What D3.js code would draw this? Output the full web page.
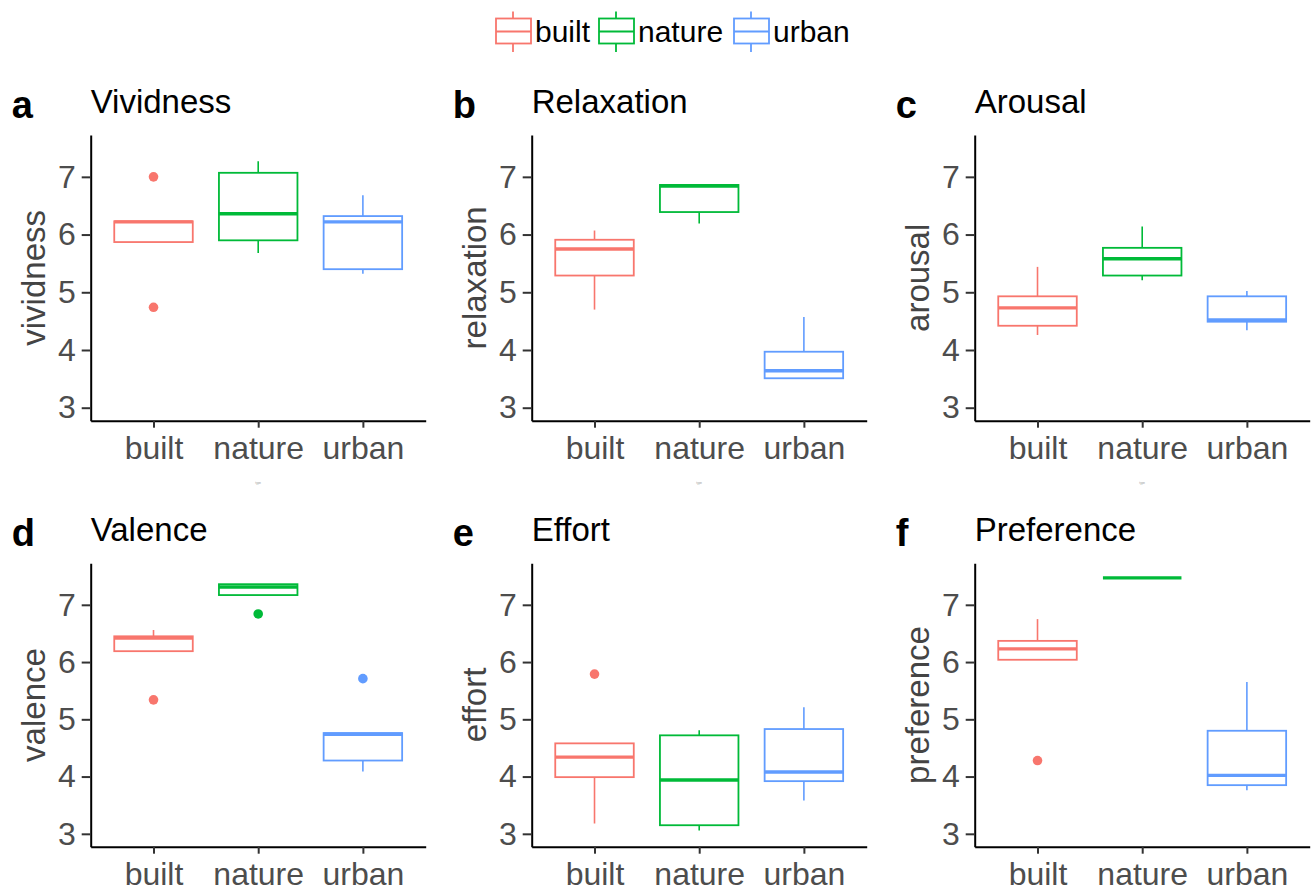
<!DOCTYPE html>
<html>
<head>
<meta charset="utf-8">
<script src="https://cdn.jsdelivr.net/npm/d3@7"></script>
<style>
  body { margin: 0; background: #fff; }
  svg { font-family: "Liberation Sans", Arial, sans-serif; }
</style>
</head>
<body>
<svg id="chart" width="1314" height="893"></svg>
<script>
const groups = ["built", "nature", "urban"];
const colors = ["#F8766D", "#00BA38", "#619CFF"];
const letters = ["a", "b", "c", "d", "e", "f"];
const titles = ["Vividness", "Relaxation", "Arousal", "Valence", "Effort", "Preference"];
const yLabels = ["vividness", "relaxation", "arousal", "valence", "effort", "preference"];
const yTicks = [3, 4, 5, 6, 7];

// [lower whisker, q1, median, q3, upper whisker] for built, nature, urban
const vividness = [[5.87, 5.87, 6.22, 6.23, 6.23], [5.68, 5.90, 6.36, 7.07, 7.27], [5.32, 5.40, 6.22, 6.32, 6.68]];
const relaxation = [[4.70, 5.29, 5.75, 5.91, 6.07], [6.19, 6.39, 6.84, 6.86, 6.86], [3.51, 3.51, 3.64, 3.97, 4.57]];
const arousal = [[4.26, 4.42, 4.73, 4.93, 5.44], [5.21, 5.29, 5.58, 5.77, 6.14], [4.34, 4.49, 4.52, 4.93, 5.02]];
const valence = [[6.19, 6.19, 6.42, 6.45, 6.56], [7.17, 7.17, 7.31, 7.36, 7.36], [4.09, 4.28, 4.74, 4.76, 4.76]];
const effort = [[3.18, 3.99, 4.34, 4.58, 4.58], [3.06, 3.15, 3.94, 4.72, 4.81], [3.58, 3.92, 4.08, 4.83, 5.21]];
const preference = [[6.04, 6.04, 6.23, 6.37, 6.75], [7.47, 7.47, 7.47, 7.47, 7.47], [3.76, 3.85, 4.02, 4.80, 5.65]];
const stats = [vividness, relaxation, arousal, valence, effort, preference];

// outliers per group
const vividnessOut = [[7.0, 4.74], [], []];
const relaxationOut = [[], [], []];
const arousalOut = [[], [], []];
const valenceOut = [[5.34], [6.84], [5.71]];
const effortOut = [[5.79], [], []];
const preferenceOut = [[4.28], [], []];
const outliers = [vividnessOut, relaxationOut, arousalOut, valenceOut, effortOut, preferenceOut];

const svg = d3.select("#chart");

// panel layout
const colLeft = [90.7, 531.7, 974.7];
const plotW = 335;
const rowTop = [135, 563.3];
const rowBottom = [420.7, 846.7];

stats.forEach((measure, i) => {
  const col = i % 3, row = Math.floor(i / 3);
  const left = colLeft[col], top = rowTop[row], bottom = rowBottom[row];

  const x = d3.scalePoint().domain(groups).range([left, left + plotW]).padding(0.6);
  const y = d3.scaleLinear().domain([2.775, 7.725]).range([bottom, top]);
  const boxW = x.step() * 0.75;

  const g = svg.append("g");

  // panel letter + title
  g.append("text")
    .attr("x", left - 79).attr("y", top - 17)
    .attr("font-size", 38).attr("font-weight", "bold").attr("fill", "#000")
    .text(letters[i]);
  g.append("text")
    .attr("x", left).attr("y", top - 22)
    .attr("font-size", 33).attr("fill", "#000")
    .text(titles[i]);

  // boxes
  measure.forEach((s, k) => {
    const cx = x(groups[k]);
    const c = colors[k];
    const [lw, q1, med, q3, uw] = s;
    g.append("line").attr("x1", cx).attr("x2", cx).attr("y1", y(q3)).attr("y2", y(uw))
      .attr("stroke", c).attr("stroke-width", 1.6);
    g.append("line").attr("x1", cx).attr("x2", cx).attr("y1", y(q1)).attr("y2", y(lw))
      .attr("stroke", c).attr("stroke-width", 1.6);
    g.append("rect")
      .attr("x", cx - boxW / 2).attr("width", boxW)
      .attr("y", y(q3)).attr("height", Math.max(0, y(q1) - y(q3)))
      .attr("fill", "#fff").attr("stroke", c).attr("stroke-width", 1.8);
    g.append("line").attr("x1", cx - boxW / 2).attr("x2", cx + boxW / 2)
      .attr("y1", y(med)).attr("y2", y(med))
      .attr("stroke", c).attr("stroke-width", 3.4);
    g.selectAll(null).data(outliers[i][k]).enter().append("circle")
      .attr("cx", cx).attr("cy", d => y(d)).attr("r", 4.8).attr("fill", c);
  });

  // axes
  const yAxis = g.append("g").attr("transform", `translate(${left},0)`)
    .call(d3.axisLeft(y).tickValues(yTicks).tickFormat(d3.format("d"))
      .tickSize(9).tickSizeOuter(0).tickPadding(6));
  const xAxis = g.append("g").attr("transform", `translate(0,${bottom})`)
    .call(d3.axisBottom(x).tickSize(7).tickSizeOuter(0).tickPadding(9));
  [yAxis, xAxis].forEach(a => {
    a.select(".domain").attr("stroke", "#000").attr("stroke-width", 2);
    a.selectAll(".tick line").attr("stroke", "#333").attr("stroke-width", 2);
    a.selectAll(".tick text").attr("fill", "#4D4D4D").attr("font-size", 32)
      .attr("font-family", "'Liberation Sans', Arial, sans-serif");
  });
  xAxis.selectAll(".tick text").attr("dy", "0.71em");

  // y axis title
  g.append("text")
    .attr("transform", `translate(${left - 57},${(top + bottom) / 2}) rotate(-90)`)
    .attr("text-anchor", "middle").attr("dominant-baseline", "central")
    .attr("font-size", 33).attr("fill", "#444")
    .text(yLabels[i]);

  // tiny x axis title (nearly invisible in original)
  if (row === 0) {
    g.append("text")
      .attr("x", left + plotW / 2).attr("y", bottom + 63)
      .attr("text-anchor", "middle").attr("font-size", 3).attr("fill", "#999")
      .text("type");
  }
});

// legend
const legendX = [495, 598, 733];
const legend = svg.append("g");
groups.forEach((grp, k) => {
  const lx = legendX[k], c = colors[k];
  const lg = legend.append("g").attr("transform", `translate(${lx},0)`);
  lg.append("line").attr("x1", 18).attr("x2", 18).attr("y1", 11.5).attr("y2", 52)
    .attr("stroke", c).attr("stroke-width", 1.8);
  lg.append("rect").attr("x", 1).attr("y", 18.5).attr("width", 35).attr("height", 25)
    .attr("fill", "#fff").attr("stroke", c).attr("stroke-width", 1.8);
  lg.append("line").attr("x1", 1).attr("x2", 36).attr("y1", 31.5).attr("y2", 31.5)
    .attr("stroke", c).attr("stroke-width", 1.8);
  lg.append("text").attr("x", 40).attr("y", 42)
    .attr("font-size", 30).attr("fill", "#000")
    .text(grp);
});
</script>
</body>
</html>
